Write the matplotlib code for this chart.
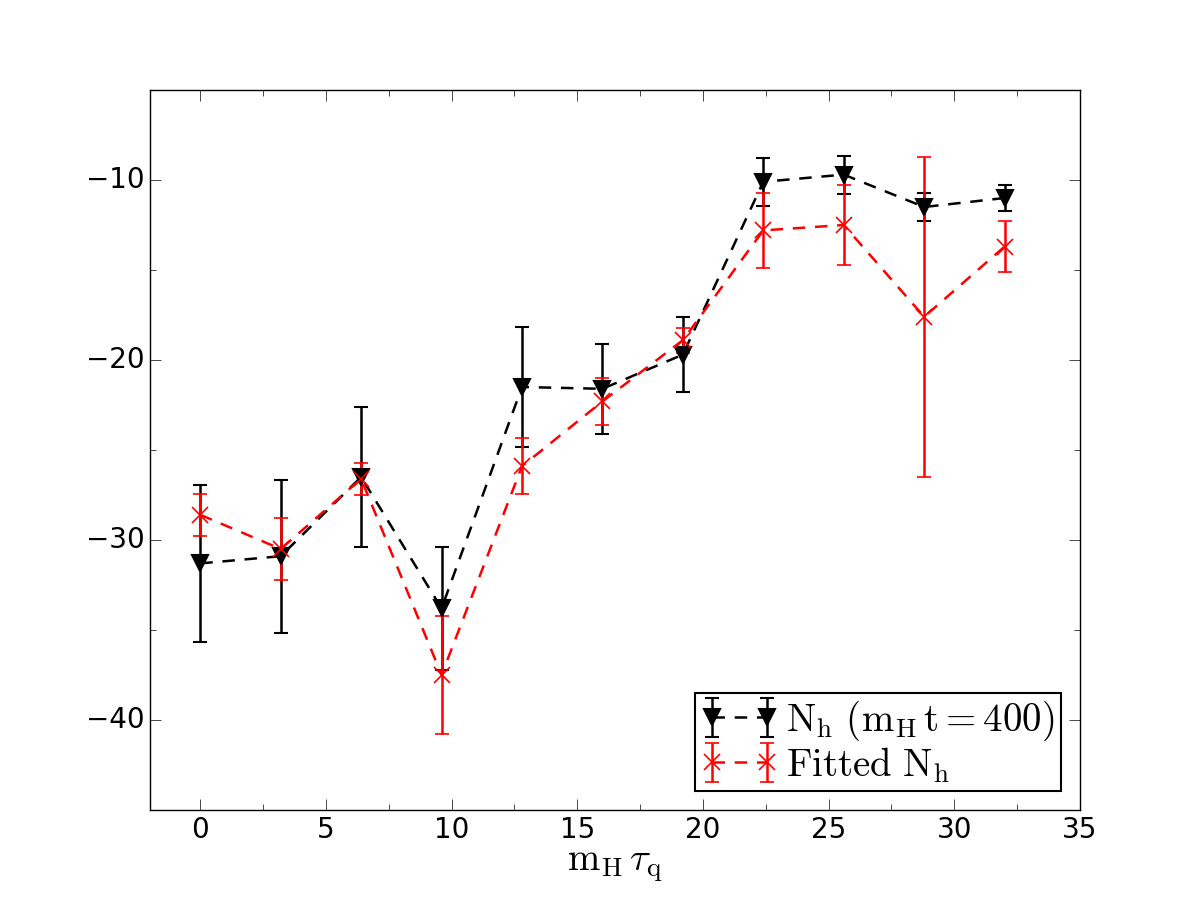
import matplotlib
matplotlib.use("Agg")
import matplotlib.pyplot as plt
from matplotlib.ticker import MultipleLocator

plt.style.use('classic')
plt.rcParams['mathtext.fontset'] = 'cm'
plt.rcParams['lines.scale_dashes'] = False

x = [0, 3.2, 6.4, 9.6, 12.8, 16.0, 19.2, 22.4, 25.6, 28.8, 32.0]
n_h = [-31.3, -30.9, -26.5, -33.8, -21.5, -21.6, -19.7, -10.1, -9.7, -11.5, -11.0]
n_h_err = [4.35, 4.25, 3.9, 3.4, 3.35, 2.5, 2.1, 1.35, 1.05, 0.8, 0.7]
fit = [-28.6, -30.5, -26.6, -37.5, -25.9, -22.3, -18.9, -12.8, -12.5, -17.6, -13.7]
fit_err = [1.15, 1.7, 0.9, 3.3, 1.55, 1.3, 0.7, 2.1, 2.2, 8.9, 1.4]

fig = plt.figure(figsize=(12, 9), dpi=100)
ax = fig.add_subplot(111)

ax.errorbar(x, n_h, yerr=n_h_err, fmt='v', linestyle='--', dashes=(9, 7),
            color='k', ecolor='k',
            markersize=11, linewidth=1.8, elinewidth=1.8, capsize=5, mew=1.5,
            label=r'$\mathrm{N_h\ (m_H\,t=400)}$')
ax.errorbar(x, fit, yerr=fit_err, fmt='x', linestyle='--', dashes=(9, 7),
            color='r', ecolor='r',
            markersize=12, linewidth=1.8, elinewidth=1.8, capsize=5, mew=1.2,
            label=r'$\mathrm{Fitted\ N_h}$')

ax.set_xlim(-2, 35)
ax.set_ylim(-45, -5)
ax.xaxis.set_major_locator(MultipleLocator(5))
ax.xaxis.set_minor_locator(MultipleLocator(2.5))
ax.yaxis.set_major_locator(MultipleLocator(10))
ax.yaxis.set_minor_locator(MultipleLocator(5))
ax.tick_params(which='major', length=8, labelsize=20)
ax.tick_params(which='minor', length=4)
ax.set_xlabel(r'$\mathrm{m_H}\,\tau_\mathrm{q}$', fontsize=28, labelpad=2)

leg = ax.legend(loc='lower right', numpoints=2, fontsize=28,
                borderaxespad=0.5, handletextpad=0.2, borderpad=0.15,
                labelspacing=0.05, handlelength=2.0)
leg.get_frame().set_linewidth(1.5)

fig.savefig('out.png', dpi=100)
